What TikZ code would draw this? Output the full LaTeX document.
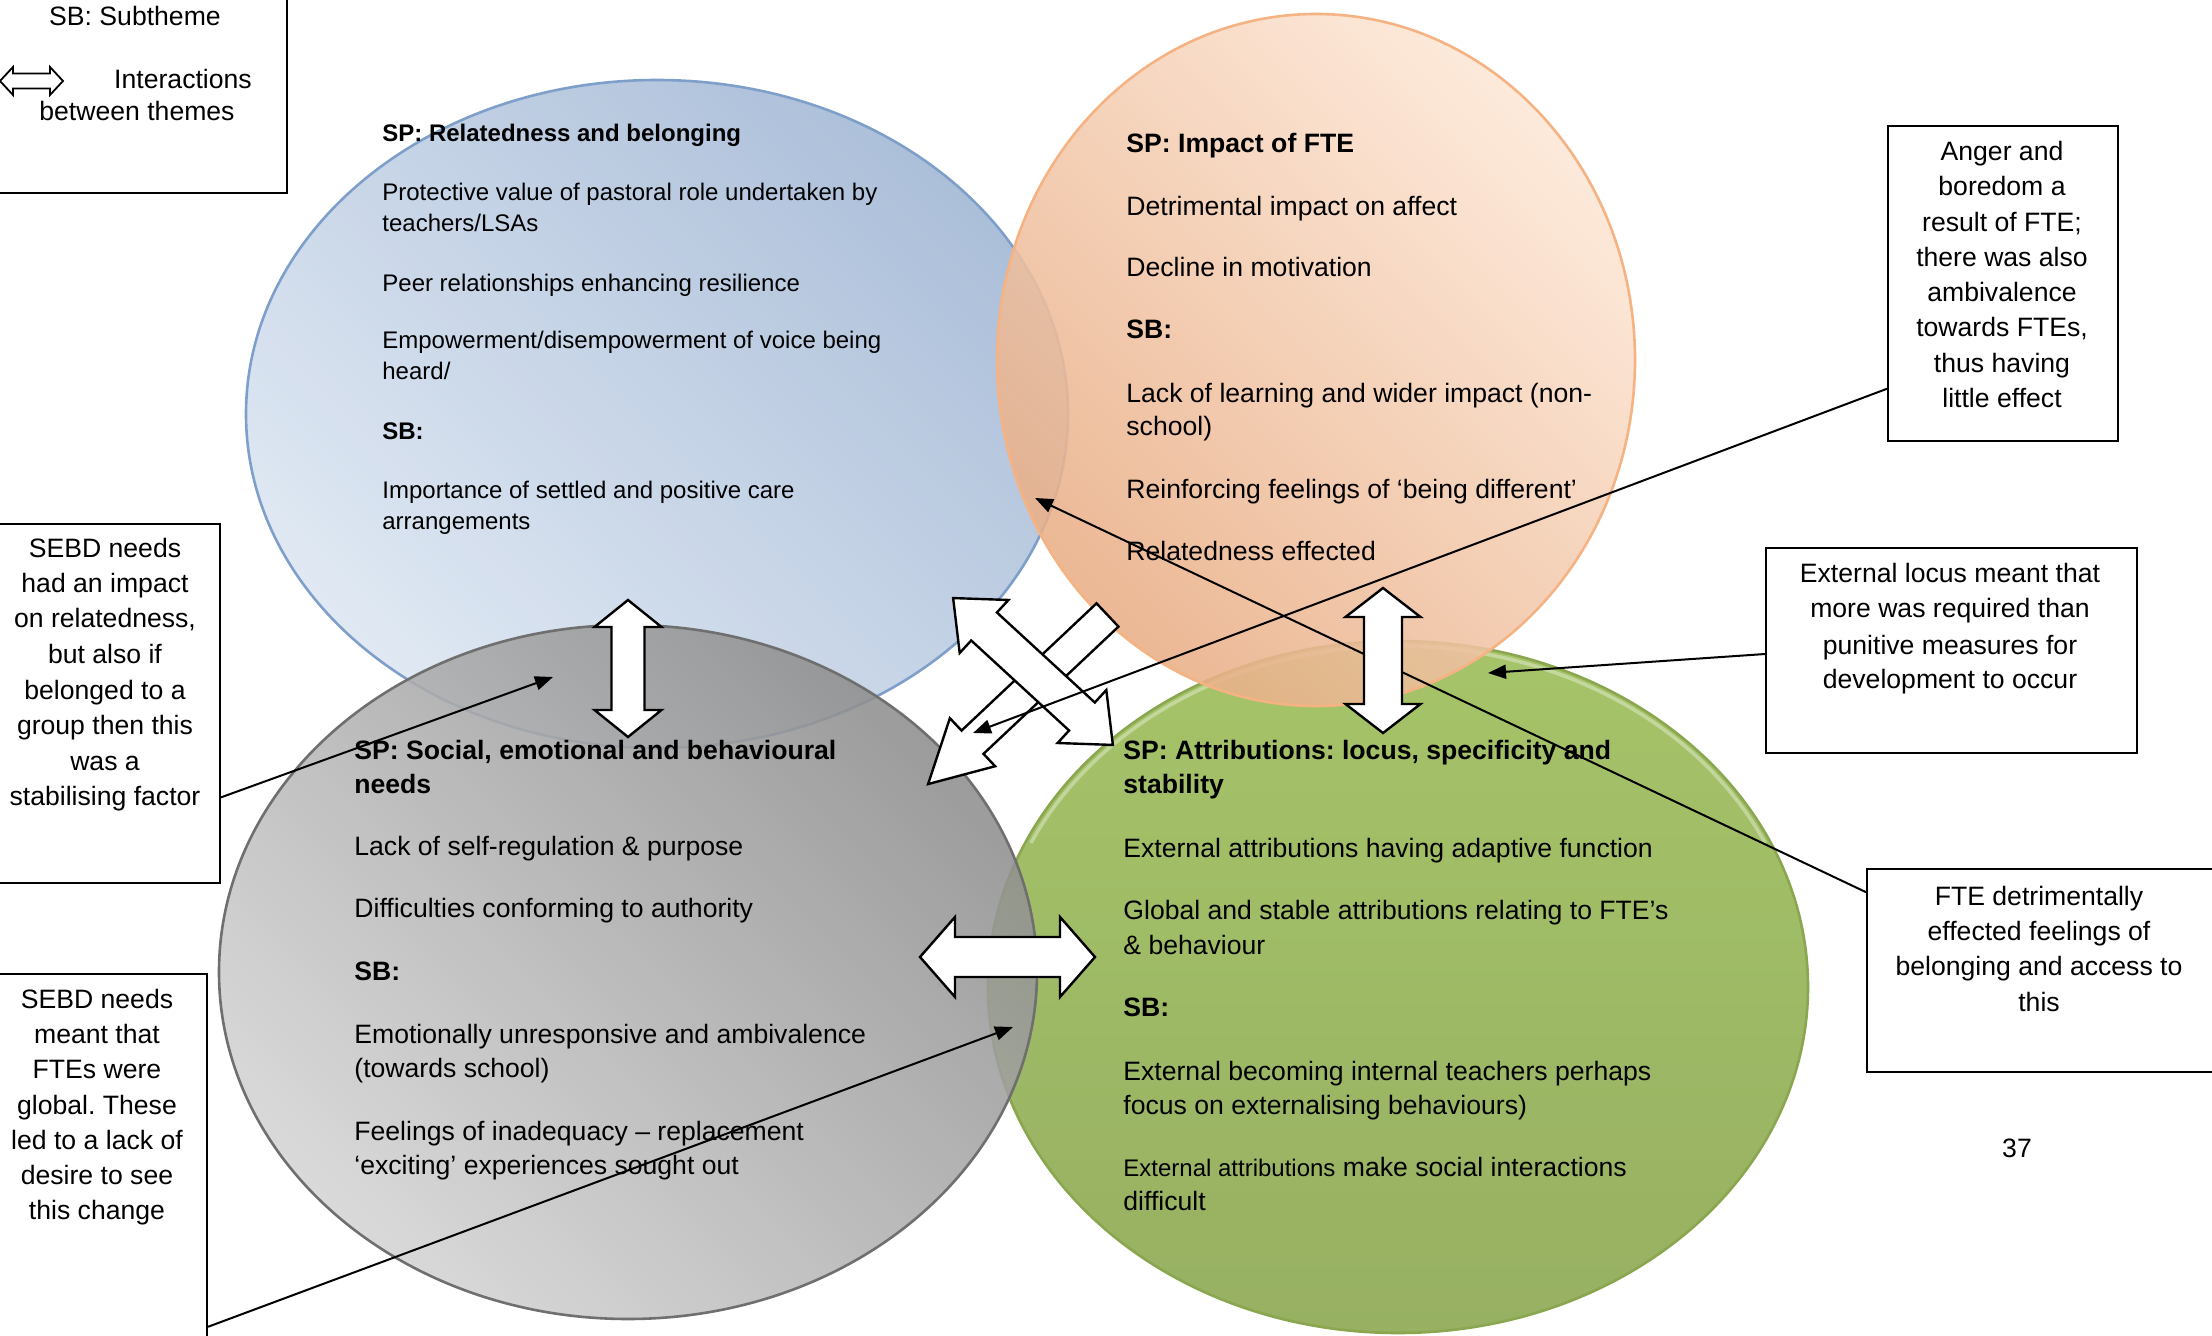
\documentclass[tikz,border=0pt]{standalone}
\usepackage{fontspec}
\setmainfont{Liberation Sans}
\usetikzlibrary{calc,arrows.meta}
\frenchspacing

\definecolor{bluelite}{HTML}{DCE6F2}
\definecolor{bluedark}{HTML}{A3B8D5}
\definecolor{blueedge}{HTML}{7F9FCB}
\definecolor{orglite}{HTML}{FDE7D6}
\definecolor{orgdark}{HTML}{E9AE86}
\definecolor{orgedge}{HTML}{F5B383}
\definecolor{graylite}{HTML}{D4D4D4}
\definecolor{graydark}{HTML}{8E8E8E}
\definecolor{grayedge}{HTML}{6F6F6F}
\definecolor{grnlite}{HTML}{9EBF5C}
\definecolor{grndark}{HTML}{8EA955}
\definecolor{grnedge}{HTML}{8AA64E}

\tikzset{
  bluetxt/.style={font=\fontsize{12}{14}\selectfont, anchor=base west, inner sep=0pt},
  bodytxt/.style={font=\fontsize{13.3}{16}\selectfont, anchor=base west, inner sep=0pt},
  boxtxt/.style={font=\fontsize{13.3}{16}\selectfont, anchor=base, inner sep=0pt},
  notebox/.style={draw=black, line width=1pt, fill=white, rectangle, inner sep=0pt, anchor=north west},
  blockarrow/.style={draw=black, fill=white, line width=1.2pt, line join=miter},
  conn/.style={draw=black, line width=1pt, -{Triangle[length=9pt,width=7pt]}},
}

% double-headed block arrow: centre x, centre y, angle, half length, head length, head half-width, shaft half-width
\newcommand\dblarrowshape[7]{%
  \draw[blockarrow, shift={(#1,#2)}, rotate=#3]
    (-#4,0) -- (-#4+#5,#6) -- (-#4+#5,#7) -- (#4-#5,#7) -- (#4-#5,#6) -- (#4,0)
    -- (#4-#5,-#6) -- (#4-#5,-#7) -- (-#4+#5,-#7) -- (-#4+#5,-#6) -- cycle;}
% single-headed block arrow: tail x, tail y, angle, length, head length, head half-width, shaft half-width
\newcommand\onearrowshape[7]{%
  \draw[blockarrow, shift={(#1,#2)}, rotate=#3]
    (0,#7) -- (#4-#5,#7) -- (#4-#5,#6) -- (#4,0) -- (#4-#5,-#6) -- (#4-#5,-#7) -- (0,-#7) -- cycle;}

\begin{document}
\begin{tikzpicture}[x=0.5pt, y=-0.5pt]
\useasboundingbox (0,0) rectangle (2212,1336);

% the four theme ellipses
\draw[blueedge, line width=1.3pt, top color=bluedark, bottom color=bluelite, shading angle=-45, fill opacity=0.9]
  (657,414) ellipse [x radius=205.5pt, y radius=167pt];
\draw[grnedge, line width=1.3pt, top color=grnlite, bottom color=grndark, fill opacity=0.92]
  (1398,987) ellipse [x radius=205pt, y radius=173pt];
% soft light rim along the top of the green ellipse
\draw[white, opacity=0.35, line width=1.8pt] (1398,987) ++(25:202.5pt and 170.5pt)
  arc [start angle=25, end angle=155, x radius=202.5pt, y radius=170.5pt];
\draw[orgedge, line width=1.3pt, top color=orglite, bottom color=orgdark, shading angle=-45, fill opacity=0.88]
  (1316,360) ellipse [x radius=159.5pt, y radius=173pt];
\draw[grayedge, line width=1.3pt, top color=graydark, bottom color=graylite, shading angle=-45, fill opacity=0.88]
  (628,972) ellipse [x radius=204.5pt, y radius=173.5pt];

% theme texts
\foreach \yy/\linetext [count=\i] in {
  142/{\textbf{SP: Relatedness and belonging}},
  201/{Protective value of pastoral role undertaken by},
  232/{teachers/LSAs},
  292/{Peer relationships enhancing resilience},
  349/{Empowerment/disempowerment of voice being},
  380/{heard/},
  440/{\textbf{SB:}},
  499/{Importance of settled and positive care},
  530/{arrangements}}
  \node[bluetxt] (rb\i) at (382,\yy) {\linetext};

\foreach \yy/\linetext [count=\i] in {
  153/{\textbf{SP: Impact of FTE}},
  216/{Detrimental impact on affect},
  277/{Decline in motivation},
  339/{\textbf{SB:}},
  403/{Lack of learning and wider impact (non-},
  436/{school)},
  499/{Reinforcing feelings of ‘being different’},
  561/{Relatedness effected}}
  \node[bodytxt] (fte\i) at (1126,\yy) {\linetext};

\foreach \yy/\linetext [count=\i] in {
  759/{\textbf{SP: Social, emotional and behavioural}},
  793/{\textbf{needs}},
  855/{Lack of self-regulation \& purpose},
  917/{Difficulties conforming to authority},
  980/{\textbf{SB:}},
  1043/{Emotionally unresponsive and ambivalence},
  1077/{(towards school)},
  1140/{Feelings of inadequacy – replacement},
  1174/{‘exciting’ experiences sought out}}
  \node[bodytxt] (seb\i) at (354,\yy) {\linetext};

\foreach \yy/\linetext [count=\i] in {
  759/{\textbf{SP: Attributions: locus, specificity and}},
  793/{\textbf{stability}},
  857/{External attributions having adaptive function},
  919/{Global and stable attributions relating to FTE’s},
  954/{\& behaviour},
  1016/{\textbf{SB:}},
  1080/{External becoming internal teachers perhaps},
  1114/{focus on externalising behaviours)},
  1176/{{\fontsize{12}{14}\selectfont External attributions} make social interactions},
  1210/{difficult}}
  \node[bodytxt] (att\i) at (1123,\yy) {\linetext};

\node[bodytxt, anchor=base] (pagenum) at (2017,1157) {37};

% note boxes
\node[notebox, minimum width=145.5pt, minimum height=98.5pt] (legend) at (-5,-5) {};
\node[notebox, minimum width=112pt, minimum height=179.5pt] (sebdA) at (-5,523) {};
\node[notebox, minimum width=105.5pt, minimum height=186pt] (sebdB) at (-5,973) {};
\node[notebox, minimum width=115pt, minimum height=157.5pt] (anger) at (1887,125) {};
\node[notebox, minimum width=185.5pt, minimum height=102.5pt] (locus) at (1765,547) {};
\node[notebox, minimum width=178pt, minimum height=101.5pt] (belong) at (1866,868) {};

\node[boxtxt] (lg1) at (135,26) {SB: Subtheme};
\node[boxtxt] (lg2) at (183,89) {Interactions};
\node[boxtxt] (lg3) at (137,121) {between themes};
\begin{scope}[line width=0.9pt]
  \draw[draw=black, fill=white, shift={(31.5,81)}]
    (-31.5,0) -- (-18.5,14) -- (-18.5,7.5) -- (18.5,7.5) -- (18.5,14) -- (31.5,0)
    -- (18.5,-14) -- (18.5,-7.5) -- (-18.5,-7.5) -- (-18.5,-14) -- cycle;
\end{scope}

\foreach \yy/\linetext [count=\i] in {
  558/{SEBD needs}, 593/{had an impact}, 628/{on relatedness,}, 664/{but also if},
  699/{belonged to a}, 734/{group then this}, 770/{was a}, 805/{stabilising factor}}
  \node[boxtxt] (sa\i) at (105,\yy) {\linetext};

\foreach \yy/\linetext [count=\i] in {
  1008/{SEBD needs}, 1043/{meant that}, 1078/{FTEs were}, 1114/{global. These},
  1149/{led to a lack of}, 1184/{desire to see}, 1219/{this change}}
  \node[boxtxt] (sb\i) at (97,\yy) {\linetext};

\foreach \yy/\linetext [count=\i] in {
  161/{Anger and}, 196/{boredom a}, 232/{result of FTE;}, 267/{there was also},
  302/{ambivalence}, 337/{towards FTEs,}, 373/{thus having}, 408/{little effect}}
  \node[boxtxt] (an\i) at (2002,\yy) {\linetext};

\foreach \yy/\linetext [count=\i] in {
  583/{External locus meant that}, 618/{more was required than},
  654/{punitive measures for}, 689/{development to occur}}
  \node[boxtxt] (lo\i) at (1950,\yy) {\linetext};

\foreach \yy/\linetext [count=\i] in {
  905/{FTE detrimentally}, 940/{effected feelings of},
  975/{belonging and access to}, 1011/{this}}
  \node[boxtxt] (be\i) at (2039,\yy) {\linetext};

% connector targets
\coordinate (tAnger) at (973,733);
\coordinate (tLocus) at (1488,673);
\coordinate (tBelong) at (1035,498);
\coordinate (tSebdA) at (553,677);
\coordinate (tSebdB) at (1013,1027);

% this connector runs beneath the block arrows
\draw[conn] ($(belong.north west)!0.118!(belong.south west)$) -- (tBelong);

% interaction arrows between themes
\dblarrowshape{628}{668.5}{90}{68.5}{27}{33.5}{16.5}
\dblarrowshape{1383}{660.5}{90}{72.5}{29}{37.5}{19}
\dblarrowshape{1007.5}{957}{0}{87.5}{35}{40}{20}
\onearrowshape{1107.5}{615}{223.3}{246.5}{61}{33}{16}
\dblarrowshape{1033}{671.5}{-42.6}{108.5}{42}{36}{19}

% remaining connectors
\draw[conn] ($(anger.north west)!0.832!(anger.south west)$) -- (tAnger);
\draw[conn] ($(locus.north west)!0.517!(locus.south west)$) -- (tLocus);
\draw[conn] ($(sebdA.north east)!0.76!(sebdA.south east)$) -- (tSebdA);
\draw[conn] ($(sebdB.north east)!0.946!(sebdB.south east)$) -- (tSebdB);
\end{tikzpicture}
\end{document}
